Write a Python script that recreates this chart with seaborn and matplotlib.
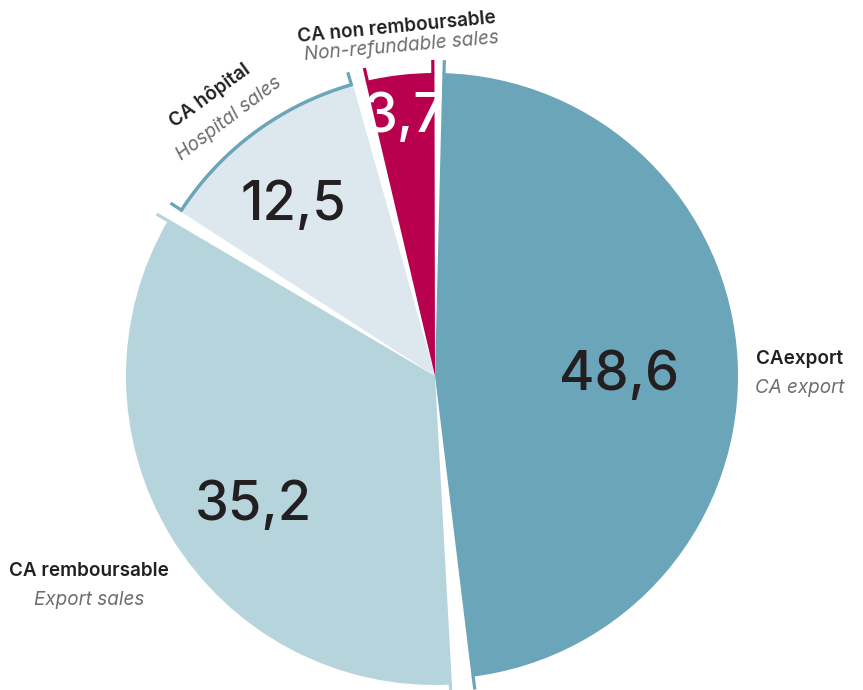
#%%
import numpy as np
import matplotlib.pyplot as plt
import seaborn as sns

#%% data
segments = ["CAexport", "CA remboursable", "CA hôpital", "CA non remboursable"]
segments_en = ["CA export", "Export sales", "Hospital sales", "Non-refundable sales"]
values = [48.6, 35.2, 12.5, 3.7]
value_labels = ["48,6", "35,2", "12,5", "3,7"]

#%% style
sns.set_style("white")
plt.rcParams['font.family'] = ['Inter', 'DejaVu Sans']

colors = ["#6aa5b9", "#b5d4dc", "#dde8ee", "#b8004f"]
bracket_colors = ["#6aa5b9", "#b5d4dc", "#6aa5b9", "#b8004f"]
dark = "#231f20"
grey = "#6d6e70"

# white gaps: how much each slice is trimmed (degrees) on its low / high angle side
shrink_lo = [1.9, 1.2, 2.4, 0.1]
shrink_hi = [1.4, 1.9, 1.2, 0.1]
# slight extra radius per slice
extra_r = [0, 6, 0, 0]

#%% pie
fig = plt.figure(figsize=(8.63, 6.9), dpi=100)
ax = fig.add_axes([0, 0, 1, 1])

cx, cy, r = 435, 314, 303
wedges, _ = ax.pie(values, colors=colors, startangle=90, counterclock=False,
                   center=(cx, cy), radius=r, wedgeprops={'linewidth': 0})

for w, lo, hi, bc, er in zip(wedges, shrink_lo, shrink_hi, bracket_colors, extra_r):
    t1 = w.theta1 + lo
    t2 = w.theta2 - hi
    w.set_theta1(t1)
    w.set_theta2(t2)
    rr = r + er
    w.set_radius(rr)
    # little radial ticks at both ends of each slice
    for a in (t1 + 0.3, t2 - 0.3):
        rad = np.deg2rad(a)
        ax.plot([cx + (rr - 1) * np.cos(rad), cx + (rr + 13) * np.cos(rad)],
                [cy + (rr - 1) * np.sin(rad), cy + (rr + 13) * np.sin(rad)],
                color=bc, lw=2.3, solid_capstyle='butt', zorder=3)

# outline arc on the hospital slice
w = wedges[2]
th = np.linspace(np.deg2rad(w.theta1 + 0.3), np.deg2rad(w.theta2 - 0.3), 100)
ax.plot(cx + r * np.cos(th), cy + r * np.sin(th), color=bracket_colors[2], lw=2.5, zorder=3)

#%% value labels
num_kw = dict(fontsize=39, fontweight='medium', ha='center', va='center')
ax.text(619, 314, value_labels[0], color=dark, **num_kw)
ax.text(253, 184, value_labels[1], color=dark, **num_kw)
ax.text(293, 484, value_labels[2], color=dark, **num_kw)
ax.text(404, 573, value_labels[3], color='white', **num_kw)

#%% category labels
fr_kw = dict(fontsize=13.6, fontweight='semibold', color=dark, ha='center', va='center', rotation_mode='anchor')
en_kw = dict(fontsize=13.6, style='italic', color=grey, ha='center', va='center', rotation_mode='anchor')

ax.text(800, 331, segments[0], **fr_kw)
ax.text(800, 302, segments_en[0], **en_kw)

ax.text(89, 119, segments[1], **fr_kw)
ax.text(89, 90, segments_en[1], **en_kw)

ax.text(210, 595, segments[2], rotation=36, **fr_kw)
ax.text(229, 571, segments_en[2], rotation=37, **en_kw)

ax.text(397, 663, segments[3], rotation=5.5, **fr_kw)
ax.text(402, 643, segments_en[3], rotation=5, **en_kw)

ax.set_xlim(0, 863)
ax.set_ylim(0, 690)
ax.set_aspect('auto')
ax.axis('off')

plt.savefig("out.png", dpi=100)
